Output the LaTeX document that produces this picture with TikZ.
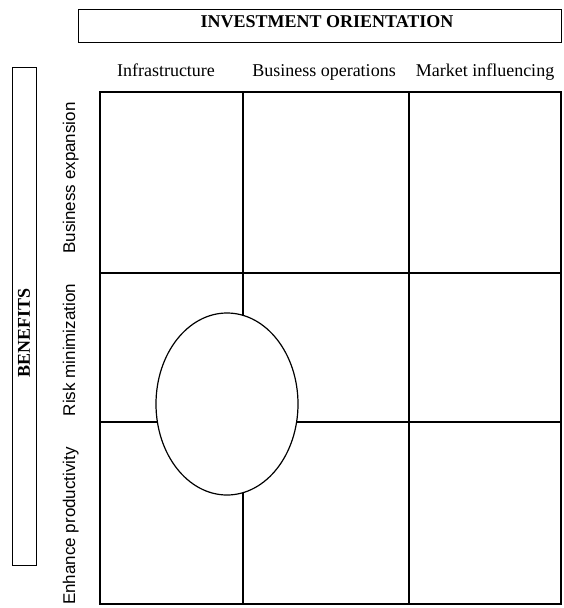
\documentclass[tikz,border=0pt]{standalone}
\usepackage{fontspec}
\setmainfont{Liberation Serif}
\newfontfamily\rowfont{Liberation Sans}
\usetikzlibrary{positioning, shapes.geometric}

\begin{document}
\begin{tikzpicture}[x=1pt, y=-1pt,
    hdr/.style={font=\fontsize{18}{20}\selectfont\bfseries, inner sep=0pt},
    colhead/.style={font=\fontsize{18}{20}\selectfont, anchor=base, inner sep=0pt},
    rowhead/.style={font=\rowfont\fontsize{17}{19}\selectfont, rotate=90, anchor=base, inner sep=0pt},
    frame/.style={draw, line width=0.8pt, inner sep=0pt},
    gridline/.style={line width=1.2pt}]
      \useasboundingbox (0,0) rectangle (563,608);

      % title boxes
      \node[frame, minimum width=483pt, minimum height=33pt] (orient) at (319.5,25.5) {};
      \node[hdr] (orienttxt) at (327,21.5) {INVESTMENT ORIENTATION};
      \node[frame, minimum width=24pt, minimum height=498pt] (benef) at (24,316) {};
      \node[hdr, rotate=90] (beneftxt) at (24,333) {BENEFITS};

      % column and row headings
      \node[colhead] (infra) at (166,76) {Infrastructure};
      \node[colhead] (busops) at (324,76) {Business operations};
      \node[colhead] (market) at (485,76) {Market influencing};

      \node[rowhead] (expand) at (75,178) {Business expansion};
      \node[rowhead] (risk) at (75,350) {Risk minimization};
      \node[rowhead] (product) at (75,526) {Enhance productivity};

      % matrix
      \draw[gridline] (100,92) rectangle (561,604);
      \draw[gridline] (243,92) -- (243,604);
      \draw[gridline] (409,92) -- (409,604);
      \draw[gridline] (100,273) -- (561,273);
      \draw[gridline] (100,422) -- (561,422);

      \node[ellipse, draw, fill=white, line width=1.2pt, minimum width=142pt, minimum height=182pt, inner sep=0pt] (focus) at (227,404) {};
    \end{tikzpicture}
\end{document}
